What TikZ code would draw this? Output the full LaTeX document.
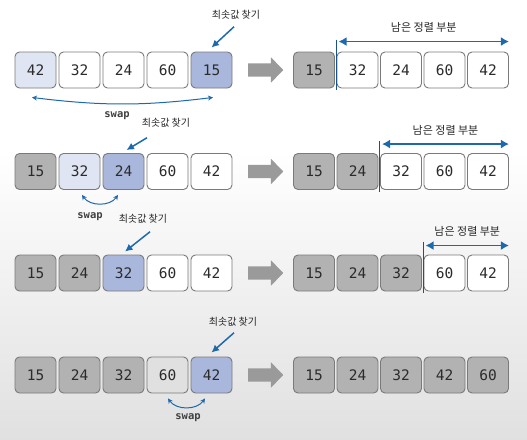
\documentclass[tikz,border=0pt]{standalone}
\usepackage{fontspec}
\setmainfont{DejaVu Sans}
\newfontfamily\numfont{DejaVu Sans Mono}
\newfontfamily\kr{Noto Sans CJK KR}
\usetikzlibrary{arrows.meta,shapes.arrows}
\definecolor{bgray}{HTML}{B2B2B2}
\definecolor{edgegray}{HTML}{7A7A7A}
\definecolor{bblue}{HTML}{A9B7DC}
\definecolor{blight}{HTML}{DFE5F3}
\definecolor{lgray}{HTML}{E0E0E0}
\definecolor{arrblue}{HTML}{1E68AC}
\definecolor{bigarr}{HTML}{9A9A9A}
\definecolor{numtext}{HTML}{2B2B2B}
\tikzset{
  cell/.style={draw=edgegray, line width=0.9pt, rounded corners=4.5pt,
    minimum width=41pt, minimum height=36pt, inner sep=0pt,
    font=\numfont\fontsize{14.5}{14.5}\selectfont, text=numtext},
  wcell/.style={cell, fill=white},
  gcell/.style={cell, fill=bgray},
  bcell/.style={cell, fill=bblue},
  lbcell/.style={cell, fill=blight},
  lgcell/.style={cell, fill=lgray},
  minlabel/.style={font=\kr\fontsize{10}{10}\selectfont, text=black!85, inner sep=0pt},
  restlabel/.style={font=\kr\fontsize{11}{11}\selectfont, text=black!85, inner sep=0pt},
  swaplabel/.style={font=\numfont\bfseries\fontsize{10.5}{10.5}\selectfont, text=black!75, inner sep=0pt},
  pointer/.style={draw=arrblue, line width=1.5pt, -{Latex[length=7.5pt,width=7.5pt]}},
  swaparc/.style={draw=arrblue, line width=1pt, {Stealth[length=5pt,width=5pt]}-{Stealth[length=5pt,width=5pt]}},
  rangearr/.style={draw=arrblue, line width=1.6pt, {Latex[length=8pt,width=9pt]}-{Latex[length=8pt,width=9pt]}},
  divider/.style={draw=arrblue!80!black, line width=0.8pt},
  bigarrow/.style={shape=single arrow, fill=bigarr, draw=none, minimum height=35pt,
    minimum width=25pt, inner xsep=0pt, inner ysep=6.5pt,
    single arrow head extend=6pt, single arrow tip angle=92}
}
\begin{document}
\begin{tikzpicture}[x=1pt,y=-1pt]
\useasboundingbox (0,0) rectangle (527,439);
\fill[white] (0,0) rectangle (527,150);
\shade[top color=white, bottom color=black!12] (0,150) rectangle (527,439);

% ---------- Row 1 ----------
\node[lbcell] (a1) at (35.5,70) {42};
\node[wcell]  (a2) at (79.5,70) {32};
\node[wcell]  (a3) at (123.5,70) {24};
\node[wcell]  (a4) at (167.5,70) {60};
\node[bcell]  (a5) at (211.5,70) {15};
\node[minlabel] (l1) at (236,15) {최솟값 찾기};
\draw[pointer] ([xshift=-2pt,yshift=-7pt]l1.south) -- ([yshift=4pt]a5.north);
\draw[swaparc] ([xshift=-3.5pt,yshift=-9pt]a1.south) to[bend right=7] ([xshift=1.5pt,yshift=-9pt]a5.south);
\node[swaplabel] (s1) at (117,116) {swap};
\node[bigarrow] (g1) at (262.5,70) {};
\node[gcell] (e1) at (314,70) {15};
\node[wcell] (e2) at (357.5,70) {32};
\node[wcell] (e3) at (401,70) {24};
\node[wcell] (e4) at (444.5,70) {60};
\node[wcell] (e5) at (488,70) {42};
\draw[divider] ([xshift=1pt,yshift=12pt]e1.north east) -- ([xshift=1pt,yshift=-2pt]e1.south east);
\draw[rangearr] ([xshift=2pt,yshift=10pt]e2.north west) -- ([yshift=10pt]e5.north east)
  node[restlabel, midway, yshift=14pt] (r1) {남은 정렬 부분};

% ---------- Row 2 ----------
\node[gcell]  (b1) at (35.5,171.5) {15};
\node[lbcell] (b2) at (79.5,171.5) {32};
\node[bcell]  (b3) at (123.5,171.5) {24};
\node[wcell]  (b4) at (167.5,171.5) {60};
\node[wcell]  (b5) at (211.5,171.5) {42};
\node[minlabel] (l2) at (166,123) {최솟값 찾기};
\draw[pointer] ([xshift=-19pt,yshift=-10pt]l2.south) -- ([xshift=3pt,yshift=3pt]b3.north);
\draw[swaparc] ([xshift=2.5pt,yshift=-5pt]b2.south) to[bend right=55] ([xshift=-5.5pt,yshift=-5pt]b3.south);
\node[swaplabel] (s2) at (90,217) {swap};
\node[bigarrow] (g2) at (262.5,171.5) {};
\node[gcell] (f1) at (314,171.5) {15};
\node[gcell] (f2) at (357.5,171.5) {24};
\node[wcell] (f3) at (401,171.5) {32};
\node[wcell] (f4) at (444.5,171.5) {60};
\node[wcell] (f5) at (488,171.5) {42};
\draw[divider] ([xshift=1pt,yshift=12pt]f2.north east) -- ([xshift=1pt,yshift=-2pt]f2.south east);
\draw[rangearr] ([xshift=2pt,yshift=9pt]f3.north west) -- ([yshift=9pt]f5.north east)
  node[restlabel, midway, yshift=14pt] (r2) {남은 정렬 부분};

% ---------- Row 3 ----------
\node[gcell] (c1) at (35.5,273) {15};
\node[gcell] (c2) at (79.5,273) {24};
\node[bcell] (c3) at (123.5,273) {32};
\node[wcell] (c4) at (167.5,273) {60};
\node[wcell] (c5) at (211.5,273) {42};
\node[minlabel] (l3) at (143,219) {최솟값 찾기};
\draw[pointer] ([xshift=7pt,yshift=-8pt]l3.south) -- ([xshift=1.5pt,yshift=3pt]c3.north);
\node[bigarrow] (g3) at (262.5,273) {};
\node[gcell] (h1) at (314,273) {15};
\node[gcell] (h2) at (357.5,273) {24};
\node[gcell] (h3) at (401,273) {32};
\node[wcell] (h4) at (444.5,273) {60};
\node[wcell] (h5) at (488,273) {42};
\draw[divider] ([xshift=1pt,yshift=13pt]h3.north east) -- ([xshift=1pt,yshift=-2pt]h3.south east);
\draw[rangearr] ([xshift=2pt,yshift=9pt]h4.north west) -- ([yshift=9pt]h5.north east)
  node[restlabel, midway, yshift=14pt] (r3) {남은 정렬 부분};

% ---------- Row 4 ----------
\node[gcell]  (d1) at (35.5,375) {15};
\node[gcell]  (d2) at (79.5,375) {24};
\node[gcell]  (d3) at (123.5,375) {32};
\node[lgcell] (d4) at (167.5,375) {60};
\node[bcell]  (d5) at (211.5,375) {42};
\node[minlabel] (l4) at (233,322) {최솟값 찾기};
\draw[pointer] ([xshift=1pt,yshift=-6pt]l4.south) -- ([yshift=4pt]d5.north);
\draw[swaparc] ([xshift=0.5pt,yshift=-5pt]d4.south) to[bend right=55] ([xshift=-6.5pt,yshift=-5pt]d5.south);
\node[swaplabel] (s4) at (188,418) {swap};
\node[bigarrow] (g4) at (262.5,375) {};
\node[gcell] (k1) at (314,375) {15};
\node[gcell] (k2) at (357.5,375) {24};
\node[gcell] (k3) at (401,375) {32};
\node[gcell] (k4) at (444.5,375) {42};
\node[gcell] (k5) at (488,375) {60};
\end{tikzpicture}
\end{document}
